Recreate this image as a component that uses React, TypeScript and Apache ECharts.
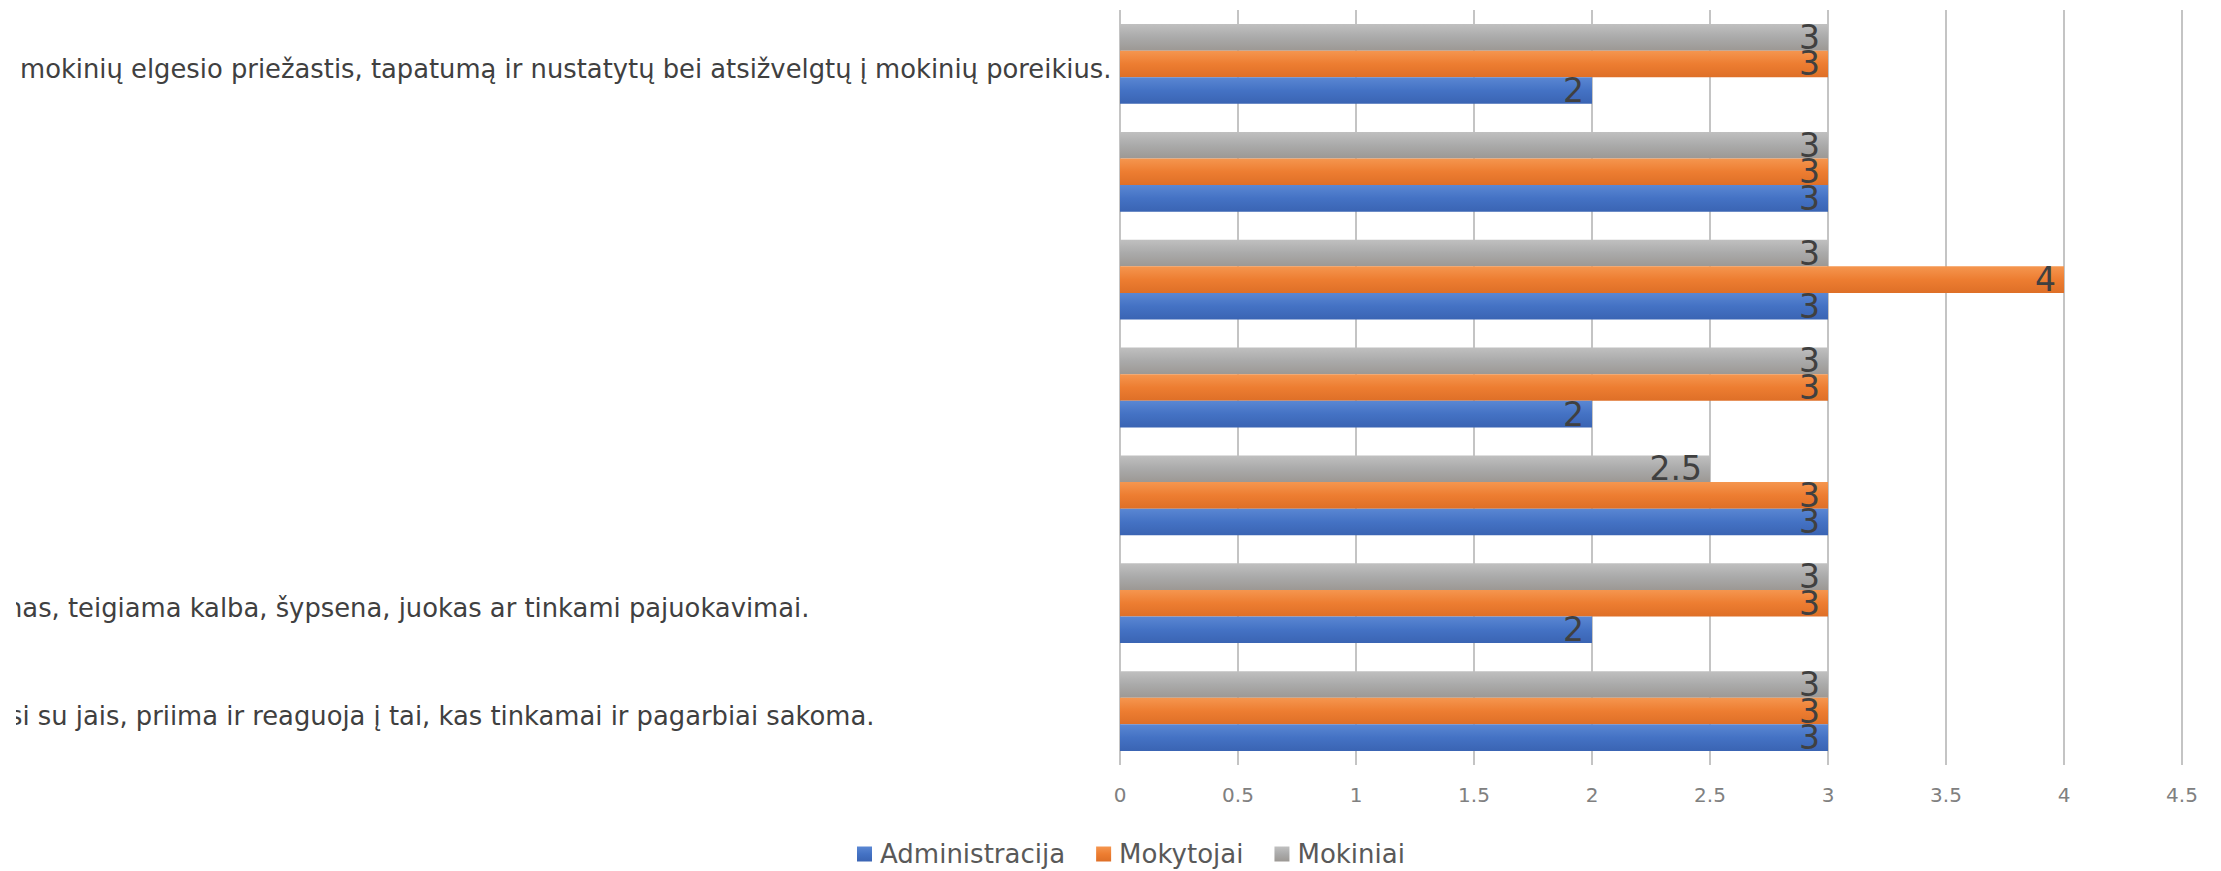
import React, { useEffect, useRef } from 'react';
import * as echarts from 'echarts';

// Categories listed bottom-to-top (as the category axis draws them)
const categories: string[] = [
  'si su jais, priima ir reaguoja į tai, kas tinkamai ir pagarbiai sakoma.',
  'nas, teigiama kalba, šypsena, juokas ar tinkami pajuokavimai.',
  '',
  '',
  '',
  '',
  'mokinių elgesio priežastis, tapatumą ir nustatytų bei atsižvelgtų į mokinių poreikius.',
];
const seriesNames: string[] = ['Administracija', 'Mokytojai', 'Mokiniai'];
const administracija: number[] = [3, 2, 3, 2, 3, 3, 2];
const mokytojai: number[] = [3, 3, 3, 3, 4, 3, 3];
const mokiniai: number[] = [3, 3, 2.5, 3, 3, 3, 3];
const xMin = 0;
const xMax = 4.5;
const xStep = 0.5;

const FONT = 'DejaVu Sans';
const LABEL_PAD = [5, 2, 0, 0, 0, 0, 16];

function grad(top: string, mid: string, bottom: string) {
  return new echarts.graphic.LinearGradient(0, 0, 0, 1, [
    { offset: 0, color: top },
    { offset: 0.5, color: mid },
    { offset: 1, color: bottom },
  ]);
}

export default function App() {
  const ref = useRef<HTMLDivElement>(null);
  useEffect(() => {
    if (!ref.current) return;
    const chart = echarts.init(ref.current, undefined, { renderer: 'svg' });
    const rich: Record<string, any> = {};
    LABEL_PAD.forEach((p, i) => {
      rich['p' + i] = {
        fontFamily: FONT,
        fontSize: 25.8,
        color: '#404040',
        padding: [10, 0, 0, p],
      };
    });
    const valueLabel = {
      show: true,
      position: 'insideRight',
      distance: 8,
      fontFamily: FONT,
      fontSize: 33,
      color: '#404040',
    };
    const colors = [
      grad('#5a87d3', '#4472c4', '#3a64b3'),
      grad('#f5964f', '#ed7d31', '#de6f27'),
      grad('#c0c0c0', '#aaaaaa', '#9c9894'),
    ];
    const dataSets = [administracija, mokytojai, mokiniai];
    // ECharts puts the first bar series at the top of each band; Excel puts it at the bottom
    const order = [2, 1, 0];
    chart.setOption({
      animation: false,
      grid: {
        left: 1104,
        right: 39,
        top: 10,
        bottom: 106,
        containLabel: false,
        outerBoundsMode: 'none',
      },
      legend: {
        left: 836,
        top: 836,
        itemWidth: 15,
        itemHeight: 15,
        itemGap: 31,
        icon: 'rect',
        textStyle: { fontFamily: FONT, fontSize: 26, color: '#595959', padding: [0, 0, 0, 3] },
        data: seriesNames,
      },
      xAxis: {
        type: 'value',
        min: xMin,
        max: xMax,
        interval: xStep,
        axisLine: { show: false },
        axisTick: { show: false },
        splitLine: { show: true, lineStyle: { color: '#c4c4c4', width: 2 } },
        axisLabel: {
          fontFamily: FONT,
          fontSize: 20,
          color: '#808080',
          margin: 20,
        },
      },
      yAxis: {
        type: 'category',
        data: categories,
        axisLine: { show: false },
        axisTick: { show: false },
        splitLine: { show: false },
        axisLabel: {
          interval: 0,
          align: 'left',
          margin: 1116,
          formatter: (value: string, index: number) => (value ? `{p${index}|${value}}` : ''),
          rich,
        },
      },
      series: order.map((i) => ({
        name: seriesNames[i],
        type: 'bar',
        data: dataSets[i],
        itemStyle: { color: colors[i] },
        barGap: '0%',
        barCategoryGap: '26%',
        label: valueLabel,
      })),
    });
    return () => chart.dispose();
  }, []);
  return (
    <div
      ref={ref}
      style={{
        position: 'fixed',
        left: 16,
        top: 0,
        width: 2205,
        height: 871,
        overflow: 'hidden',
        background: '#ffffff',
      }}
    />
  );
}
